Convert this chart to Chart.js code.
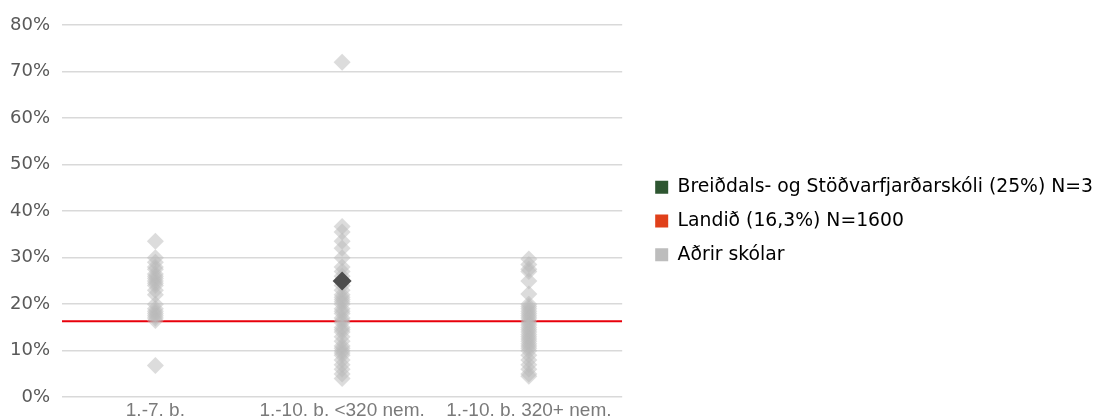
<!DOCTYPE html>
<html>
<head>
<meta charset="utf-8">
<script src="https://cdn.jsdelivr.net/npm/chart.js@4.4.0/dist/chart.umd.min.js"></script>
<style>
  html, body { margin: 0; padding: 0; background: #ffffff; }
  #wrap { position: relative; width: 1095px; height: 420px; }
</style>
</head>
<body>
<div id="wrap"><canvas id="chart" width="1095" height="420"></canvas></div>
<script>
// ---- Data ----
const categories = ['1.-7. b.', '1.-10. b. <320 nem.', '1.-10. b. 320+ nem.'];

const otherSchools7 = [33.5, 30, 29, 28, 27.5, 26.5, 26, 25.5, 25, 24.5, 24, 23, 22, 20, 19, 18.5, 18, 17.5, 17, 16.5, 6.8];
const otherSchoolsSmall = [72, 36.7, 35.5, 33.5, 32, 30, 28, 27, 26, 24, 23, 22, 21.5, 21, 20.5, 20, 19, 18.5, 18, 17, 16.5, 16, 15, 14.5, 14, 13, 12, 11, 10.5, 10, 9.5, 9, 8, 7, 6, 5, 4];
const otherSchoolsLarge = [29.7, 28.5, 27.5, 27, 25, 22.2, 20, 19.5, 19, 18.5, 18, 17.5, 17, 16.5, 16, 15.5, 15, 14.5, 14, 13.5, 13, 12.5, 12, 11.5, 11, 10.5, 10, 9, 8, 7, 6, 5, 4.5];

const schoolCategory = 1;      // index into categories
const schoolValue = 25;        // Breiðdals- og Stöðvarfjarðarskóli
const nationalValue = 16.3;    // Landið

const legendLabels = ['Breiðdals- og Stöðvarfjarðarskóli (25%) N=3', 'Landið (16,3%) N=1600', 'Aðrir skólar'];
const legendColors = ['#2e5631', '#e0401a', '#bdbdbd'];

const yTicks = [0, 10, 20, 30, 40, 50, 60, 70, 80];

// ---- Build datasets ----
const otherGroups = [otherSchools7, otherSchoolsSmall, otherSchoolsLarge];
const otherPoints = [];
otherGroups.forEach((vals, ci) => vals.forEach(v => otherPoints.push({ x: ci, y: v })));

const xMin = -0.5, xMax = categories.length - 0.5;

const LEGEND_EXTRA_WIDTH = 10;
const LEGEND_SHIFT_X = 18;
const LEGEND_SHIFT_Y = -5;
const legendGap = {
  id: 'legendGap',
  beforeLayout(chart) {
    const lg = chart.legend;
    if (lg && !lg._gapPatched) {
      const fit = lg.fit.bind(lg);
      lg.fit = function () { fit(); this.width += LEGEND_EXTRA_WIDTH; };
      lg._gapPatched = true;
    }
  },
  afterLayout(chart) {
    const lg = chart.legend;
    if (lg) {
      lg.left += LEGEND_SHIFT_X; lg.right += LEGEND_SHIFT_X;
      lg.top += LEGEND_SHIFT_Y; lg.bottom += LEGEND_SHIFT_Y;
    }
  }
};

new Chart(document.getElementById('chart'), {
  type: 'scatter',
  data: {
    datasets: [
      {
        label: legendLabels[0],
        data: [{ x: schoolCategory, y: schoolValue }],
        pointStyle: 'rectRot',
        pointRadius: 9.5,
        backgroundColor: '#4d4d4d',
        borderWidth: 0,
        order: 1
      },
      {
        label: legendLabels[1],
        type: 'line',
        data: [{ x: xMin, y: nationalValue }, { x: xMax, y: nationalValue }],
        borderColor: '#e8000b',
        borderWidth: 2,
        pointRadius: 0,
        fill: false,
        order: 3
      },
      {
        label: legendLabels[2],
        data: otherPoints,
        pointStyle: 'rectRot',
        pointRadius: 8.5,
        backgroundColor: 'rgba(185,185,185,0.5)',
        borderWidth: 0,
        order: 2
      }
    ]
  },
  options: {
    responsive: false,
    animation: false,
    layout: { padding: { left: -2, top: 25, right: 0, bottom: -7 } },
    plugins: {
      tooltip: { enabled: false },
      legend: {
        position: 'right',
        align: 'center',
        maxWidth: 560,
        labels: {
          boxWidth: 13,
          boxHeight: 13,
          padding: 15,
          color: '#3f3f3f',
          font: { family: 'DejaVu Sans', size: 18.8 },
          generateLabels: () => legendLabels.map((t, i) => ({
            text: t,
            fillStyle: legendColors[i],
            strokeStyle: legendColors[i],
            lineWidth: 0,
            hidden: false,
            datasetIndex: i
          }))
        }
      }
    },
    scales: {
      x: {
        type: 'linear',
        min: xMin,
        max: xMax,
        afterBuildTicks: s => { s.ticks = categories.map((_, i) => ({ value: i })); },
        ticks: {
          callback: v => categories[v],
          color: '#7a7a7a',
          font: { family: 'Liberation Sans', size: 19 },
          padding: 2,
          maxRotation: 0
        },
        grid: { display: false, drawTicks: false },
        border: { display: false }
      },
      y: {
        min: 0,
        max: 80,
        afterBuildTicks: s => { s.ticks = yTicks.map(v => ({ value: v })); },
        ticks: {
          callback: v => v + '%',
          color: '#595959',
          font: { family: 'DejaVu Sans', size: 18 },
          padding: 12
        },
        grid: { color: '#d9d9d9', lineWidth: 1.5, drawTicks: false },
        border: { display: false }
      }
    }
  },
  plugins: [legendGap]
});
</script>
</body>
</html>
